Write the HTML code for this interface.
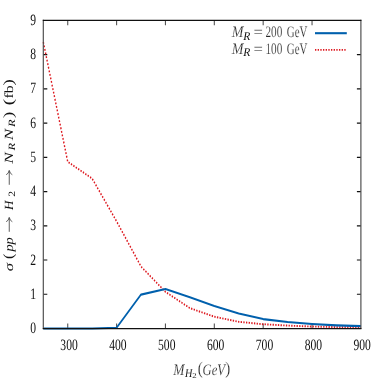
<!DOCTYPE html>
<html><head><meta charset="utf-8"><title>plot</title>
<style>html,body{margin:0;padding:0;background:#fff;}svg{display:block;}text{text-rendering:geometricPrecision;font-family:"Liberation Serif",serif;fill:#202020;stroke:#fff;stroke-width:0.2px;paint-order:fill stroke;}text.t,.t text{stroke:none;fill:#0c0c0c;}</style></head><body>
<svg width="382" height="382" viewBox="0 0 382 382">
<rect width="382" height="382" fill="#fff"/>
<path d="M67.73 328.50v-5M67.73 20.35v5M116.59 328.50v-5M116.59 20.35v5M165.45 328.50v-5M165.45 20.35v5M214.32 328.50v-5M214.32 20.35v5M263.18 328.50v-5M263.18 20.35v5M312.04 328.50v-5M312.04 20.35v5" stroke="#555" stroke-width="1.1" fill="none"/>
<path d="M43.30 294.26h4M360.90 294.26h-4M43.30 260.02h4M360.90 260.02h-4M43.30 225.78h4M360.90 225.78h-4M43.30 191.54h4M360.90 191.54h-4M43.30 157.31h4M360.90 157.31h-4M43.30 123.07h4M360.90 123.07h-4M43.30 88.83h4M360.90 88.83h-4M43.30 54.59h4M360.90 54.59h-4" stroke="#111" stroke-width="1.2" fill="none"/>
<g transform="scale(0.720,1)" fill="none">
<polyline points="60.14,41.92 94.07,161.76 128.00,178.53 161.93,221.33 195.87,266.53 229.80,291.86 263.73,308.13 297.66,316.69 331.59,321.82 365.52,324.22 399.46,325.59 433.39,326.51 467.32,327.13 501.25,327.47" stroke="#dd181f" stroke-width="1.9" stroke-dasharray="1.85 1.85"/>
<polyline points="60.14,328.50 128.00,328.50 161.93,327.82 195.87,294.60 229.80,288.95 263.73,297.17 297.66,306.07 331.59,313.43 365.52,319.08 399.46,321.99 433.39,324.05 467.32,325.42 501.25,326.17" stroke="#0060ad" stroke-width="2.1" stroke-linejoin="round"/>
<path d="M437.50 33.2H481.67" stroke="#0060ad" stroke-width="2.1"/>
<path d="M437.50 49.9H481.67" stroke="#dd181f" stroke-width="1.9" stroke-dasharray="1.85 1.85"/>
</g>
<path d="M43.30 19.75V329.10M360.90 19.75V329.10" stroke="#4a4a4a" stroke-width="1.15" fill="none"/>
<path d="M42.80 20.35H361.40M42.80 328.50H361.40" stroke="#111" stroke-width="1.25" fill="none"/>
<g opacity="0.98">
<text transform="translate(69.03,349.9) scale(0.735,1)" font-size="15.8" text-anchor="middle" class="t">300</text>
<text transform="translate(117.89,349.9) scale(0.735,1)" font-size="15.8" text-anchor="middle" class="t">400</text>
<text transform="translate(166.75,349.9) scale(0.735,1)" font-size="15.8" text-anchor="middle" class="t">500</text>
<text transform="translate(215.62,349.9) scale(0.735,1)" font-size="15.8" text-anchor="middle" class="t">600</text>
<text transform="translate(264.48,349.9) scale(0.735,1)" font-size="15.8" text-anchor="middle" class="t">700</text>
<text transform="translate(313.34,349.9) scale(0.735,1)" font-size="15.8" text-anchor="middle" class="t">800</text>
<text transform="translate(362.20,349.9) scale(0.735,1)" font-size="15.8" text-anchor="middle" class="t">900</text>
<text transform="translate(36.1,333.00) scale(0.735,1)" font-size="15.8" text-anchor="end" class="t">0</text>
<text transform="translate(36.1,298.76) scale(0.735,1)" font-size="15.8" text-anchor="end" class="t">1</text>
<text transform="translate(36.1,264.52) scale(0.735,1)" font-size="15.8" text-anchor="end" class="t">2</text>
<text transform="translate(36.1,230.28) scale(0.735,1)" font-size="15.8" text-anchor="end" class="t">3</text>
<text transform="translate(36.1,196.04) scale(0.735,1)" font-size="15.8" text-anchor="end" class="t">4</text>
<text transform="translate(36.1,161.81) scale(0.735,1)" font-size="15.8" text-anchor="end" class="t">5</text>
<text transform="translate(36.1,127.57) scale(0.735,1)" font-size="15.8" text-anchor="end" class="t">6</text>
<text transform="translate(36.1,93.33) scale(0.735,1)" font-size="15.8" text-anchor="end" class="t">7</text>
<text transform="translate(36.1,59.09) scale(0.735,1)" font-size="15.8" text-anchor="end" class="t">8</text>
<text transform="translate(36.1,24.85) scale(0.735,1)" font-size="15.8" text-anchor="end" class="t">9</text>
<text x="231.70" y="37.30" font-size="16" textLength="11.70" lengthAdjust="spacingAndGlyphs" font-style="italic">M</text><text x="243.20" y="40.00" font-size="12" textLength="7.10" lengthAdjust="spacingAndGlyphs" font-style="italic" class="t">R</text><text x="253.40" y="37.30" font-size="16" textLength="9.40" lengthAdjust="spacingAndGlyphs">=</text><text x="265.50" y="37.30" font-size="16" textLength="16.80" lengthAdjust="spacingAndGlyphs">200</text><text x="286.80" y="37.30" font-size="16" textLength="20.60" lengthAdjust="spacingAndGlyphs">GeV</text>
<text x="231.70" y="53.60" font-size="16" textLength="11.70" lengthAdjust="spacingAndGlyphs" font-style="italic">M</text><text x="243.20" y="56.30" font-size="12" textLength="7.10" lengthAdjust="spacingAndGlyphs" font-style="italic" class="t">R</text><text x="253.40" y="53.60" font-size="16" textLength="9.40" lengthAdjust="spacingAndGlyphs">=</text><text x="265.50" y="53.60" font-size="16" textLength="16.80" lengthAdjust="spacingAndGlyphs">100</text><text x="286.80" y="53.60" font-size="16" textLength="20.60" lengthAdjust="spacingAndGlyphs">GeV</text>
<text x="173.30" y="374.50" font-size="16" textLength="11.20" lengthAdjust="spacingAndGlyphs" font-style="italic">M</text>
<text x="185.00" y="376.80" font-size="12" textLength="7.40" lengthAdjust="spacingAndGlyphs" font-style="italic" class="t">H</text>
<text x="192.20" y="378.10" font-size="7.5" textLength="4.40" lengthAdjust="spacingAndGlyphs" class="t">2</text>
<text x="197.80" y="374.20" font-size="17.5" textLength="5.00" lengthAdjust="spacingAndGlyphs">(</text>
<text x="202.50" y="374.50" font-size="16" textLength="22.50" lengthAdjust="spacingAndGlyphs" font-style="italic">GeV</text>
<text x="225.20" y="374.20" font-size="17.5" textLength="5.00" lengthAdjust="spacingAndGlyphs">)</text>
<g transform="translate(13.1,270.5) rotate(-90) scale(1,0.780)" class="t">
<text x="-0.70" y="0.00" font-size="16" textLength="8.20" lengthAdjust="spacingAndGlyphs" font-style="italic">σ</text>
<text x="11.50" y="-0.20" font-size="18" textLength="5.40" lengthAdjust="spacingAndGlyphs">(</text>
<text x="18.90" y="0.00" font-size="16" textLength="7.20" lengthAdjust="spacingAndGlyphs" font-style="italic">p</text>
<text x="26.10" y="0.00" font-size="16" textLength="7.20" lengthAdjust="spacingAndGlyphs" font-style="italic">p</text>
<text x="60.50" y="0.00" font-size="16" textLength="9.40" lengthAdjust="spacingAndGlyphs" font-style="italic">H</text>
<text x="73.70" y="1.80" font-size="12.3" textLength="5.80" lengthAdjust="spacingAndGlyphs" class="t">2</text>
<text x="106.70" y="0.00" font-size="16" textLength="11.40" lengthAdjust="spacingAndGlyphs" font-style="italic">N</text>
<text x="120.00" y="1.80" font-size="12.3" textLength="7.70" lengthAdjust="spacingAndGlyphs" font-style="italic" class="t">R</text>
<text x="130.30" y="0.00" font-size="16" textLength="11.40" lengthAdjust="spacingAndGlyphs" font-style="italic">N</text>
<text x="143.60" y="1.80" font-size="12.3" textLength="7.70" lengthAdjust="spacingAndGlyphs" font-style="italic" class="t">R</text>
<text x="152.50" y="-0.20" font-size="18" textLength="6.40" lengthAdjust="spacingAndGlyphs">)</text>
<text x="165.30" y="-0.20" font-size="18" textLength="6.40" lengthAdjust="spacingAndGlyphs">(</text>
<text x="172.10" y="0.00" font-size="16" textLength="13.10" lengthAdjust="spacingAndGlyphs">fb</text>
<text x="184.90" y="-0.20" font-size="18" textLength="6.40" lengthAdjust="spacingAndGlyphs">)</text>
</g>
<path d="M9.25 231.80V217.80M6.2 221.70Q8.6 220.70 9.25 217.40Q9.9 220.70 12.3 221.70" fill="none" stroke="#4a4a4a" stroke-width="0.9"/>
<path d="M9.25 184.80V170.80M6.2 174.70Q8.6 173.70 9.25 170.40Q9.9 173.70 12.3 174.70" fill="none" stroke="#4a4a4a" stroke-width="0.9"/>
</g>
</svg></body></html>
